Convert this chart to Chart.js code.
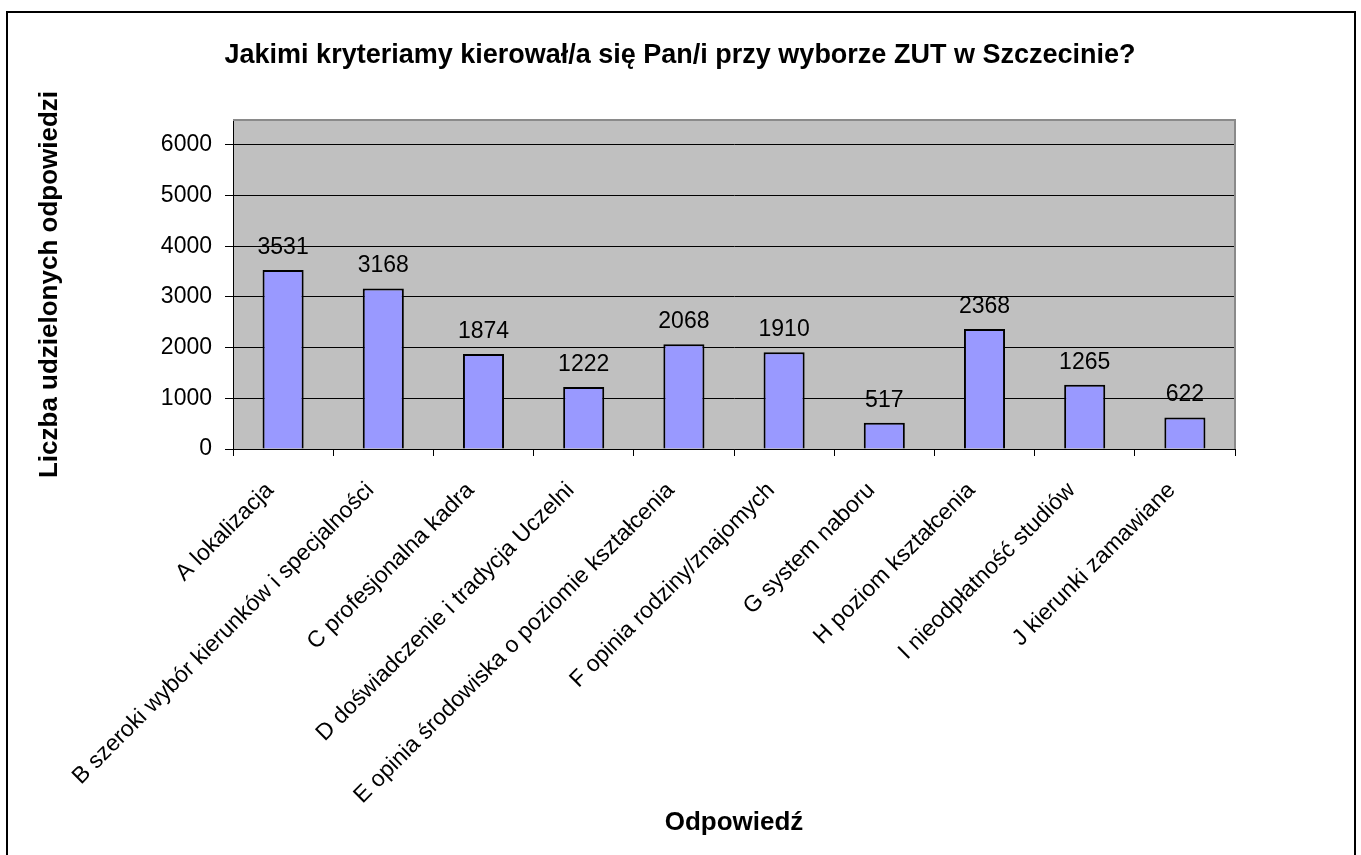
<!DOCTYPE html>
<html><head><meta charset="utf-8">
<script src="https://cdn.jsdelivr.net/npm/chart.js@4"></script>
<style>html,body{margin:0;padding:0;background:#fff;} canvas{display:block;}</style>
</head><body>
<canvas id="c" width="1361" height="855"></canvas>
<script>
const chartTitle = 'Jakimi kryteriamy kierował/a się Pan/i przy wyborze ZUT w Szczecinie?';
const xAxisTitle = 'Odpowiedź';
const yAxisTitle = 'Liczba udzielonych odpowiedzi';
const categories = ['A lokalizacja', 'B szeroki wybór kierunków i specjalności', 'C profesjonalna kadra', 'D doświadczenie i tradycja Uczelni', 'E opinia środowiska o poziomie kształcenia', 'F opinia rodziny/znajomych', 'G system naboru', 'H poziom kształcenia', 'I nieodpłatność studiów', 'J kierunki zamawiane'];
const values = [3531, 3168, 1874, 1222, 2068, 1910, 517, 2368, 1265, 622];
const yTicks = [0, 1000, 2000, 3000, 4000, 5000, 6000];
const yMax = 6490;

const FONT = "'Liberation Sans', Arial, sans-serif";

const bgPlugin = {
  id: 'bg',
  beforeDraw(chart) {
    const {ctx, chartArea: a} = chart;
    ctx.save();
    ctx.fillStyle = '#fff';
    ctx.fillRect(0, 0, chart.width, chart.height);
    ctx.fillStyle = '#C0C0C0';
    ctx.fillRect(a.left, a.top, a.right - a.left, a.bottom - a.top);
    ctx.restore();
  },
  afterDraw(chart) {
    const {ctx, chartArea: a} = chart;
    ctx.save();
    ctx.strokeStyle = '#8a8a8a';
    ctx.lineWidth = 2;
    ctx.beginPath();
    ctx.moveTo(a.left, a.top);
    ctx.lineTo(a.right, a.top);
    ctx.lineTo(a.right, a.bottom);
    ctx.stroke();
    ctx.fillStyle = '#000';
    ctx.fillRect(6, 11, 1350, 2);
    ctx.fillRect(6, 11, 2, 900);
    ctx.fillRect(1354, 11, 2, 900);
    ctx.font = "bold 27px " + FONT;
    ctx.textAlign = 'center';
    ctx.textBaseline = 'middle';
    ctx.fillText(chartTitle, 680, 56);
    ctx.restore();
  },
  afterDatasetsDraw(chart) {
    const {ctx} = chart;
    const meta = chart.getDatasetMeta(0);
    ctx.save();
    ctx.font = "23px " + FONT;
    ctx.fillStyle = '#000';
    ctx.textAlign = 'center';
    ctx.textBaseline = 'alphabetic';
    meta.data.forEach((bar, i) => {
      ctx.fillText(String(values[i]), bar.x, bar.y - 16);
    });
    ctx.restore();
  }
};

new Chart(document.getElementById('c'), {
  type: 'bar',
  data: {
    labels: categories,
    datasets: [{
      data: values,
      backgroundColor: '#9999FF',
      borderColor: '#000',
      borderWidth: 2,
      barPercentage: 0.41,
      categoryPercentage: 1.0
    }]
  },
  options: {
    responsive: false,
    animation: false,
    devicePixelRatio: 1,
    layout: { padding: { left: 34, right: 126, top: 120, bottom: 17 } },
    plugins: { legend: { display: false }, title: { display: false }, tooltip: { enabled: false } },
    scales: {
      x: {
        grid: { offset: true, drawOnChartArea: false, color: '#000', tickLength: 7, lineWidth: 1 },
        border: { display: true, color: '#000', width: 1 },
        ticks: { minRotation: 45, maxRotation: 45, autoSkip: false, color: '#000', padding: 21, labelOffset: -13, font: { family: FONT, size: 23 } },
        title: { display: true, text: xAxisTitle, color: '#000', padding: { top: 0, bottom: 0 }, font: { family: FONT, size: 26, weight: 'bold' } },
        afterFit(scale) { scale.height = 855 - 17 - 449; }
      },
      y: {
        min: 0,
        max: yMax,
        afterBuildTicks(scale) { scale.ticks = yTicks.map(v => ({ value: v })); },
        grid: { color: '#000', tickLength: 8, lineWidth: 1 },
        border: { display: true, color: '#000', width: 1 },
        ticks: { color: '#000', padding: 13, font: { family: FONT, size: 23 }, callback: (v) => String(v) },
        title: { display: true, text: yAxisTitle, color: '#000', padding: { top: 0, bottom: 0 }, font: { family: FONT, size: 26, weight: 'bold' } },
        afterFit(scale) { scale.width = 233 - 34; }
      }
    }
  },
  plugins: [bgPlugin]
});
</script>
</body></html>
